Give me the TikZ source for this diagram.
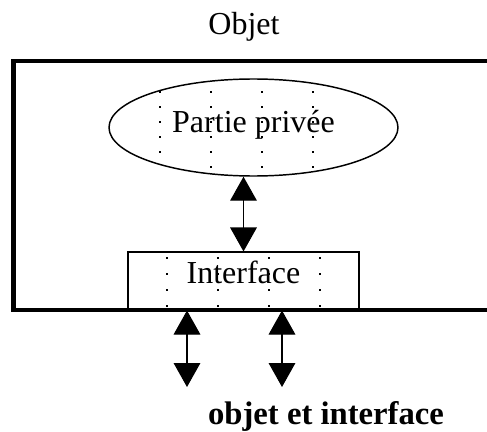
\documentclass[tikz,border=0pt]{standalone}
\usepackage{fontspec}
\setmainfont{Liberation Serif}
\usetikzlibrary{arrows.meta, positioning, shapes.geometric, calc}

\tikzset{
  lbl/.style={font=\fontsize{24}{28}\selectfont, inner sep=0pt},
  outerline/.style={line width=3.4pt, line join=miter},
  dotline/.style={line width=1.5pt, dash pattern=on 1.5pt off #1},
  dotgrid/.style 2 args={path picture={
      \foreach \dx in {#1}
        \draw[dotline=#2] ($(path picture bounding box.north)+(\dx,0)$) -- ($(path picture bounding box.south)+(\dx,0)$);}},
  privbox/.style={ellipse, draw, line width=1.1pt, minimum width=216.75pt, minimum height=72.75pt,
      inner sep=0pt, text height=14pt, text depth=7pt},
  ifacebox/.style={rectangle, draw, line width=0.8pt, minimum width=173.25pt, minimum height=43.5pt,
      inner sep=0pt, text height=14pt, text depth=11pt},
  biarrow/.style={line width=0.8pt, {Triangle[width=20pt,length=18pt]}-{Triangle[width=20pt,length=18pt]}}
}

\begin{document}
\begin{tikzpicture}[x=0.75pt,y=-0.75pt]
    \useasboundingbox (0,0) rectangle (487,432);

    % Title
    \node[lbl, anchor=base] (title) at (244,35) {Objet};

    % Object frame (open to the right)
    \draw[outerline] (487,61) -- (13.5,61) -- (13.5,310) -- (487,310);

    % Private part
    \node[privbox, lbl, dotgrid={-93.5,-42.5,8.5,59.5}{9.75pt, dash phase=2.25pt}] (priv) at (253.5,127.5) {Partie privée};

    % Interface
    \node[ifacebox, lbl, dotgrid={-76.5,-25.5,25.5,76.5}{10.5pt, dash phase=8.25pt}] (iface) at (243.5,281) {Interface};

    % Exchanges
    \draw[biarrow] (iface.north |- priv.south) -- (iface.north);
    \coordinate (out1) at (187,387);
    \coordinate (out2) at (282,387);
    \draw[biarrow] (out1 |- iface.south) -- (out1);
    \draw[biarrow] (out2 |- iface.south) -- (out2);

    % Caption
    \node[lbl, anchor=base, font=\fontsize{24.5}{29}\selectfont\bfseries] (caption) at (326,424) {objet et interface};
\end{tikzpicture}
\end{document}
